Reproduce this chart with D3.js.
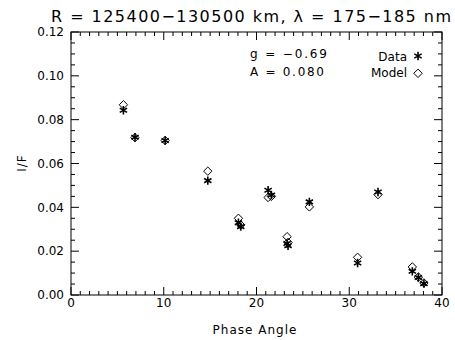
<!DOCTYPE html>
<html><head><meta charset="utf-8">
<script src="https://cdn.jsdelivr.net/npm/d3@7"></script>
<style>body{margin:0;background:#fff}svg{display:block}text{font-family:"DejaVu Sans","Liberation Sans",Arial,sans-serif;fill:#000}</style>
</head><body><svg id="c" width="455" height="340"></svg>
<script>
const phase = [5.65, 6.9, 10.15, 14.75, 18.05, 18.3, 21.25, 21.6, 23.3, 23.4, 25.7, 30.9, 33.1, 36.8, 37.45, 38.05];
const dataIF = [0.0843, 0.0720, 0.0705, 0.0522, 0.0330, 0.0312, 0.0478, 0.0456, 0.0235, 0.0225, 0.0425, 0.0146, 0.0470, 0.0108, 0.0080, 0.0052];
const modelIF = [0.0868, 0.0718, 0.0705, 0.0565, 0.0350, 0.0320, 0.0445, 0.0450, 0.0266, 0.0240, 0.0402, 0.0172, 0.0458, 0.0128, 0.0082, 0.0055];
const xTicks = [0, 10, 20, 30, 40];
const yTicks = [0.00, 0.02, 0.04, 0.06, 0.08, 0.10, 0.12];
const title = "R = 125400\u2212130500 km, \u03bb = 175\u2212185 nm";

const svg = d3.select("#c");
const L = 71, R = 442, T = 32, B = 295;
const x = d3.scaleLinear().domain([0, 40]).range([L, R]);
const y = d3.scaleLinear().domain([0, 0.12]).range([B, T]);

svg.append("rect").attr("x", L).attr("y", T).attr("width", R - L).attr("height", B - T)
  .attr("fill", "none").attr("stroke", "#000").attr("stroke-width", 1);

const g = svg.append("g").attr("stroke", "#000").attr("stroke-width", 1);
d3.range(0, 41, 1).forEach(v => {
  const len = v % 10 === 0 ? 8 : 4;
  g.append("line").attr("x1", x(v)).attr("x2", x(v)).attr("y1", B).attr("y2", B - len);
  g.append("line").attr("x1", x(v)).attr("x2", x(v)).attr("y1", T).attr("y2", T + len);
});
d3.range(0, 25, 1).forEach(i => {
  const v = i * 0.005;
  const len = i % 4 === 0 ? 8 : 4;
  g.append("line").attr("x1", L).attr("x2", L + len).attr("y1", y(v)).attr("y2", y(v));
  g.append("line").attr("x1", R).attr("x2", R - len).attr("y1", y(v)).attr("y2", y(v));
});

svg.selectAll(".xt").data(xTicks).enter().append("text")
  .attr("x", d => x(d)).attr("y", 307).attr("text-anchor", "middle").attr("font-size", 12).text(d => d);
svg.selectAll(".yt").data(yTicks).enter().append("text")
  .attr("x", L - 7).attr("y", d => y(d) + 4.3).attr("text-anchor", "end").attr("font-size", 12).text(d => d.toFixed(2));

svg.append("text").attr("x", 255).attr("y", 334).attr("text-anchor", "middle").attr("font-size", 12)
  .attr("letter-spacing", 1).text("Phase Angle");
svg.append("text").attr("transform", "translate(26,163) rotate(-90)").attr("text-anchor", "middle").attr("font-size", 12)
  .attr("letter-spacing", 1).text("I/F");
svg.append("text").attr("x", 51).attr("y", 21.5).attr("font-size", 16)
  .attr("textLength", 400).attr("lengthAdjust", "spacing").text(title);

svg.append("text").attr("x", 250).attr("y", 57.5).attr("font-size", 12)
  .attr("textLength", 77).attr("lengthAdjust", "spacing").text("g = \u22120.69");
svg.append("text").attr("x", 250).attr("y", 75.7).attr("font-size", 12)
  .attr("textLength", 74).attr("lengthAdjust", "spacing").text("A = 0.080");
svg.append("text").attr("x", 407).attr("y", 60.5).attr("text-anchor", "end").attr("font-size", 12).text("Data");
svg.append("text").attr("x", 407).attr("y", 76.5).attr("text-anchor", "end").attr("font-size", 12).text("Model");

function diamond(sel, cx, cy) {
  const r = 4.2;
  sel.append("path").attr("d", `M${cx},${cy - r}L${cx + r},${cy}L${cx},${cy + r}L${cx - r},${cy}Z`)
    .attr("fill", "none").attr("stroke", "#000").attr("stroke-width", 1);
}
function star(sel, cx, cy) {
  const r = 4.2, dx = r * 0.87, dy = r * 0.5;
  sel.append("path").attr("d", `M${cx},${cy - r}L${cx},${cy + r}M${cx - dx},${cy - dy}L${cx + dx},${cy + dy}M${cx - dx},${cy + dy}L${cx + dx},${cy - dy}`)
    .attr("stroke", "#000").attr("stroke-width", 1.6).attr("fill", "none");
}
const pm = svg.append("g");
phase.forEach((p, i) => diamond(pm, x(p), y(modelIF[i])));
phase.forEach((p, i) => star(pm, x(p), y(dataIF[i])));
star(svg, 418, 56);
diamond(svg, 418, 73.3);
</script></body></html>
